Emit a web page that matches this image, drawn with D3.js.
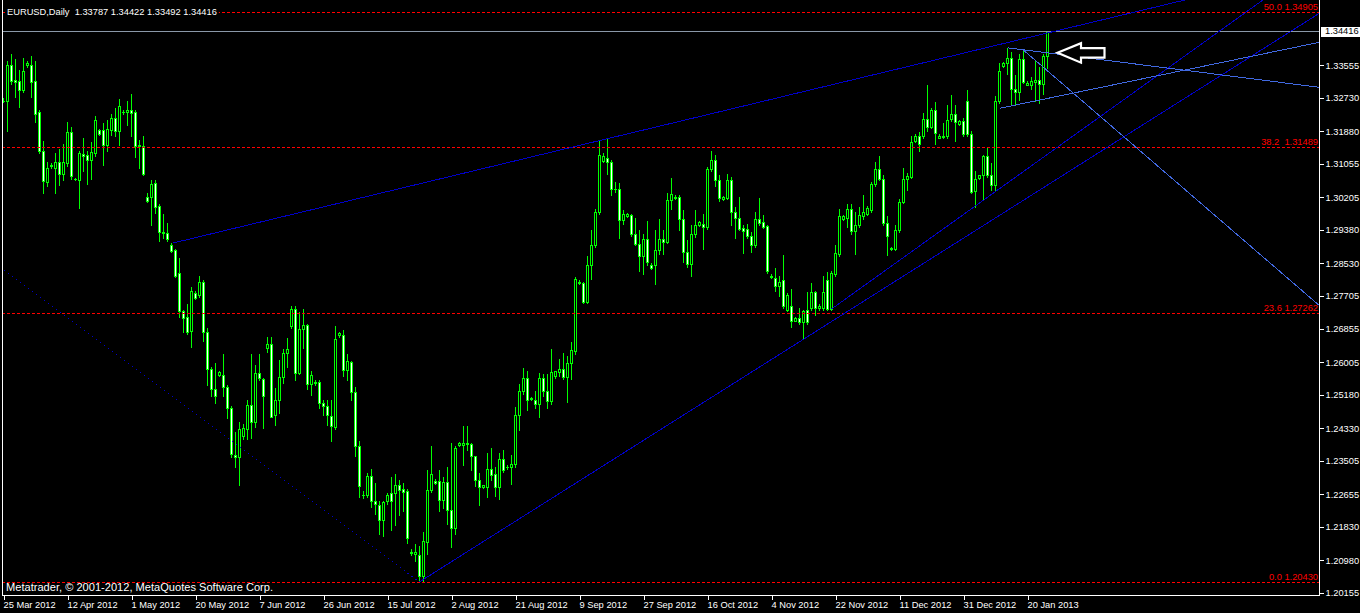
<!DOCTYPE html>
<html><head><meta charset="utf-8">
<script src="https://cdn.jsdelivr.net/npm/d3@7"></script>
<style>html,body{margin:0;padding:0;background:#000;overflow:hidden}svg{display:block}</style>
</head><body><svg id="c" width="1360" height="613"></svg>
<script>
// ---------------- DATA ----------------
const symbolTitle = "EURUSD,Daily";
const copyright = "Metatrader, \u00A9 2001-2012, MetaQuotes Software Corp.";
const openP = [
1.3266,1.3266,1.3355,1.3317,1.3315,1.3294,1.3355,1.3355,1.3315,1.3236,1.3137,1.3059,1.3099,1.3094,1.3109,1.3079,1.3107,1.3185,1.3067,1.3064,
1.3129,1.3127,1.3115,1.3132,1.3190,1.3190,1.3152,1.3190,1.3221,1.3188,1.3238,1.3238,1.3241,1.3236,1.3150,1.3150,1.3022,1.3021,1.3057,1.2999,
1.2933,1.2929,1.2900,1.2885,1.2827,1.2731,1.2715,1.2680,1.2776,1.2773,1.2806,1.2677,1.2585,1.2534,1.2569,1.2569,1.2538,1.2485,1.2366,1.2360,
1.2413,1.2432,1.2493,1.2449,1.2574,1.2559,1.2636,1.2648,1.2466,1.2504,1.2563,1.2625,1.2693,1.2737,1.2574,1.2686,1.2696,1.2546,1.2550,1.2552,
1.2498,1.2489,1.2464,1.2436,1.2669,1.2671,1.2582,1.2601,1.2525,1.2389,1.2264,1.2264,1.2313,1.2249,1.2239,1.2199,1.2248,1.2269,1.2269,1.2288,
1.2279,1.2275,1.2120,1.2114,1.2111,1.2059,1.2145,1.2277,1.2300,1.2300,1.2252,1.2298,1.2226,1.2179,1.2391,1.2392,1.2396,1.2394,1.2362,1.2302,
1.2283,1.2283,1.2330,1.2317,1.2283,1.2354,1.2336,1.2334,1.2343,1.2467,1.2529,1.2561,1.2509,1.2505,1.2495,1.2561,1.2527,1.2502,1.2565,1.2576,
1.2584,1.2563,1.2600,1.2629,1.2802,1.2803,1.2754,1.2849,1.2898,1.2982,1.3112,1.3121,1.3110,1.3042,1.3042,1.2963,1.2972,1.2976,1.2928,1.2902,
1.2872,1.2913,1.2847,1.2847,1.2885,1.2915,1.2906,1.3014,1.3018,1.3022,1.2966,1.2881,1.2851,1.2928,1.2949,1.2953,1.2944,1.3093,1.3114,1.3065,
1.3017,1.3018,1.3063,1.2982,1.2968,1.2942,1.2940,1.2921,1.2900,1.2964,1.2957,1.2946,1.2821,1.2816,1.2794,1.2809,1.2734,1.2743,1.2707,1.2714,
1.2703,1.2733,1.2738,1.2779,1.2738,1.2738,1.2809,1.2737,1.2826,1.2877,1.2966,1.2967,1.2991,1.2934,1.2949,1.2972,1.2978,1.2989,1.3055,1.3093,
1.3067,1.2956,1.2891,1.2889,1.2937,1.3008,1.3066,1.3071,1.3163,1.3177,1.3177,1.3220,1.3199,1.3243,1.3172,1.3177,1.3177,1.3218,1.3233,1.3207,
1.3214,1.3264,1.3182,1.3035,1.3068,1.3076,1.3124,1.3078,1.3052,1.3264,1.3354,1.3361,1.3375,1.3296,1.3288,1.3372,1.3306,1.3306,1.3313,1.3319,
1.3309,1.33787];
const highP = [
1.3272,1.3366,1.3383,1.3371,1.3343,1.3373,1.3366,1.3378,1.3366,1.3241,1.3162,1.3110,1.3106,1.3132,1.3142,1.3155,1.3211,1.3198,1.3070,1.3139,
1.3170,1.3139,1.3160,1.3226,1.3193,1.3208,1.3216,1.3233,1.3246,1.3269,1.3241,1.3264,1.3282,1.3243,1.3165,1.3175,1.3030,1.3063,1.3063,1.3004,
1.2977,1.2954,1.2903,1.2890,1.2867,1.2735,1.2750,1.2791,1.2781,1.2821,1.2809,1.2687,1.2590,1.2600,1.2578,1.2621,1.2544,1.2489,1.2425,1.2450,
1.2443,1.2505,1.2621,1.2595,1.2621,1.2560,1.2666,1.2666,1.2535,1.2607,1.2635,1.2662,1.2745,1.2745,1.2728,1.2737,1.2699,1.2580,1.2555,1.2555,
1.2506,1.2506,1.2506,1.2692,1.2679,1.2682,1.2622,1.2605,1.2538,1.2400,1.2275,1.2320,1.2330,1.2294,1.2248,1.2249,1.2270,1.2309,1.2317,1.2302,
1.2294,1.2279,1.2127,1.2139,1.2135,1.2169,1.2326,1.2387,1.2305,1.2326,1.2309,1.2336,1.2395,1.2387,1.2399,1.2440,1.2440,1.2396,1.2364,1.2319,
1.2290,1.2371,1.2383,1.2334,1.2371,1.2379,1.2341,1.2366,1.2488,1.2546,1.2587,1.2578,1.2512,1.2527,1.2574,1.2571,1.2570,1.2635,1.2580,1.2610,
1.2624,1.2618,1.2652,1.2817,1.2809,1.2805,1.2870,1.2938,1.2991,1.3163,1.3132,1.3167,1.3116,1.3059,1.3056,1.2989,1.2979,1.2978,1.2968,1.2936,
1.2928,1.2959,1.2852,1.2936,1.2966,1.2936,1.3031,1.3070,1.3025,1.3025,1.2987,1.2911,1.2950,1.2989,1.2961,1.2978,1.3097,1.3137,1.3127,1.3076,
1.3024,1.3080,1.3071,1.2995,1.3022,1.2949,1.2953,1.2933,1.2982,1.3019,1.2976,1.2950,1.2824,1.2840,1.2820,1.2874,1.2777,1.2788,1.2717,1.2738,
1.2734,1.2779,1.2802,1.2781,1.2749,1.2819,1.2830,1.2832,1.2898,1.2991,1.2974,1.3004,1.3004,1.2982,1.2995,1.3025,1.2997,1.3058,1.3110,1.3124,
1.3076,1.2972,1.2895,1.2949,1.3017,1.3095,1.3082,1.3175,1.3180,1.3186,1.3235,1.3306,1.3246,1.3262,1.3180,1.3209,1.3254,1.3281,1.3254,1.3217,
1.3221,1.3292,1.3188,1.3088,1.3078,1.3127,1.3148,1.3106,1.3277,1.3361,1.3364,1.3400,1.3389,1.3330,1.3385,1.3394,1.3315,1.3326,1.3368,1.3351,
1.3385,1.34422];
const lowP = [
1.3261,1.3188,1.3309,1.3275,1.3249,1.3287,1.3350,1.3275,1.3211,1.3132,1.3031,1.3049,1.3094,1.3031,1.3051,1.3063,1.3099,1.3066,1.3064,1.2993,
1.3087,1.3055,1.3066,1.3125,1.3179,1.3102,1.3139,1.3178,1.3175,1.3152,1.3233,1.3205,1.3177,1.3122,1.3094,1.3077,1.3007,1.2951,1.2981,1.2908,
1.2917,1.2908,1.2880,1.2817,1.2715,1.2677,1.2674,1.2639,1.2761,1.2768,1.2654,1.2544,1.2515,1.2497,1.2565,1.2516,1.2460,1.2361,1.2334,1.2288,
1.2407,1.2406,1.2409,1.2436,1.2555,1.2433,1.2626,1.2462,1.2442,1.2471,1.2548,1.2590,1.2689,1.2555,1.2570,1.2637,1.2533,1.2518,1.2544,1.2484,
1.2467,1.2442,1.2402,1.2432,1.2666,1.2567,1.2556,1.2505,1.2364,1.2258,1.2257,1.2258,1.2232,1.2216,1.2165,1.2159,1.2242,1.2175,1.2188,1.2213,
1.2224,1.2143,1.2112,1.2097,1.2043,1.2046,1.2114,1.2271,1.2291,1.2222,1.2230,1.2190,1.2131,1.2165,1.2389,1.2340,1.2377,1.2326,1.2286,1.2239,
1.2281,1.2258,1.2302,1.2260,1.2254,1.2321,1.2331,1.2292,1.2336,1.2430,1.2521,1.2480,1.2504,1.2484,1.2463,1.2516,1.2485,1.2495,1.2562,1.2565,
1.2559,1.2499,1.2559,1.2622,1.2799,1.2751,1.2751,1.2813,1.2893,1.2978,1.3111,1.3080,1.3025,1.3033,1.2916,1.2953,1.2970,1.2921,1.2898,1.2834,
1.2826,1.2847,1.2838,1.2800,1.2877,1.2875,1.2904,1.2991,1.3016,1.2936,1.2855,1.2844,1.2821,1.2919,1.2946,1.2888,1.2940,1.3088,1.3050,1.3010,
1.3013,1.3015,1.2949,1.2916,1.2936,1.2878,1.2916,1.2881,1.2895,1.2951,1.2941,1.2829,1.2815,1.2783,1.2769,1.2740,1.2730,1.2690,1.2705,1.2699,
1.2661,1.2699,1.2733,1.2720,1.2735,1.2735,1.2733,1.2735,1.2821,1.2872,1.2963,1.2944,1.2928,1.2876,1.2944,1.2966,1.2974,1.2984,1.3050,1.3063,
1.2951,1.2874,1.2886,1.2885,1.2933,1.3005,1.3039,1.3068,1.3160,1.3139,1.3172,1.3188,1.3195,1.3156,1.3170,1.3170,1.3172,1.3213,1.3162,1.3204,
1.3177,1.3177,1.3030,1.2995,1.3066,1.3012,1.3071,1.3038,1.3036,1.3259,1.3352,1.3334,1.3258,1.3254,1.3268,1.3310,1.3305,1.3296,1.3264,1.3260,
1.3282,1.33492];
const closeP = [
1.3265,1.3355,1.3316,1.3312,1.3294,1.3340,1.3361,1.3313,1.3233,1.3138,1.3061,1.3094,1.3101,1.3109,1.3079,1.3109,1.3185,1.3074,1.3066,1.3132,
1.3125,1.3116,1.3134,1.3216,1.3181,1.3152,1.3193,1.3221,1.3188,1.3251,1.3236,1.3241,1.3234,1.3150,1.3153,1.3079,1.3010,1.3055,1.2995,1.2932,
1.2929,1.2913,1.2883,1.2821,1.2731,1.2713,1.2677,1.2781,1.2763,1.2806,1.2677,1.2585,1.2534,1.2516,1.2575,1.2538,1.2485,1.2368,1.2360,1.2432,
1.2433,1.2493,1.2449,1.2574,1.2561,1.2516,1.2648,1.2463,1.2504,1.2563,1.2625,1.2635,1.2737,1.2574,1.2686,1.2696,1.2546,1.2569,1.2548,1.2498,
1.2489,1.2467,1.2440,1.2661,1.2675,1.2582,1.2604,1.2525,1.2389,1.2286,1.2263,1.2313,1.2249,1.2241,1.2199,1.2245,1.2264,1.2248,1.2288,1.2277,
1.2271,1.2155,1.2117,1.2120,1.2057,1.2148,1.2277,1.2317,1.2293,1.2252,1.2298,1.2226,1.2179,1.2383,1.2396,1.2396,1.2394,1.2362,1.2302,1.2283,
1.2288,1.2330,1.2315,1.2283,1.2354,1.2328,1.2335,1.2343,1.2467,1.2529,1.2561,1.2506,1.2508,1.2495,1.2561,1.2527,1.2502,1.2576,1.2578,1.2584,
1.2563,1.2600,1.2631,1.2813,1.2806,1.2754,1.2849,1.2898,1.2984,1.3127,1.3124,1.3110,1.3042,1.3040,1.2963,1.2977,1.2977,1.2928,1.2902,1.2872,
1.2913,1.2855,1.2841,1.2885,1.2915,1.2906,1.3014,1.3029,1.3022,1.2966,1.2881,1.2851,1.2928,1.2949,1.2957,1.2944,1.3093,1.3114,1.3065,1.3018,
1.3021,1.3063,1.2982,1.2967,1.2940,1.2934,1.2921,1.2900,1.2964,1.2956,1.2944,1.2832,1.2817,1.2794,1.2806,1.2745,1.2772,1.2707,1.2714,1.2703,
1.2731,1.2703,1.2779,1.2738,1.2745,1.2779,1.2737,1.2827,1.2878,1.2972,1.2972,1.2991,1.2934,1.2950,1.2976,1.2982,1.2993,1.3055,1.3093,1.3067,
1.2956,1.2921,1.2890,1.2938,1.3008,1.3067,1.3073,1.3160,1.3177,1.3155,1.3220,1.3199,1.3243,1.3184,1.3177,1.3173,1.3217,1.3233,1.3211,1.3214,
1.3182,1.3182,1.3033,1.3066,1.3076,1.3124,1.3076,1.3052,1.3264,1.3340,1.3362,1.3375,1.3296,1.3288,1.3372,1.3313,1.3311,1.3315,1.3319,1.3309,
1.3378,1.34416];

const dateLabels = ["25 Mar 2012","12 Apr 2012","1 May 2012","20 May 2012","7 Jun 2012","26 Jun 2012","15 Jul 2012","2 Aug 2012",
  "21 Aug 2012","9 Sep 2012","27 Sep 2012","16 Oct 2012","4 Nov 2012","22 Nov 2012","11 Dec 2012","31 Dec 2012","20 Jan 2013"];
const dateLabelBars = [0,16,32,48,64,80,96,112,128,144,160,176,192,208,224,240,256];
const priceTicks = [1.20155,1.20980,1.21830,1.22655,1.23505,1.24330,1.25180,1.26005,1.26855,1.27705,1.28530,1.29380,1.30205,1.31055,1.31880,1.32730,1.33555];
const lastPrice = 1.34416;
const fibPrices = [1.34905,1.31489,1.27262,1.20430];
const fibLabels = ["50.0 1.34905","38.2  1.31489","23.6 1.27262","0.0 1.20430"];
// trend lines: [bar, price] anchors
const trendFrom = [[0,1.2836],[42.4,1.2904],[207,1.27363],[104,1.2043],[249,1.32462],[251,1.3400],[255,1.3394]];
const trendTo   = [[104,1.2043],[264.1,1.34452],[313.7,1.35130],[328.95,1.34876],[328.95,1.34139],[328.95,1.32996],[328.8,1.27465]];
const trendRay  = [false,true,true,true,true,true,true];
const arrowTip = [263.5, 1.33875];

// ---------------- STYLE / LAYOUT ----------------
const W = 1360, H = 613;
const plot = {left: 2, right: 1319, top: 0, bottom: 596};
const FONT = "'Liberation Sans', Arial, sans-serif";
const trendColor = ["#0000c8","#0000c8","#0000c8","#0000c8","#4169e1","#4169e1","#4169e1"];
const trendDash  = ["2,3",null,null,null,null,null,null];

const svg = d3.select("#c");
svg.append("rect").attr("width", W).attr("height", H).attr("fill", "#000");

const x = d3.scaleLinear().domain([0, 256]).range([3.5, 1027.5]);
const y = d3.scaleLinear().domain([1.20155, 1.33555]).range([592.7, 65.3]);

svg.append("defs").append("clipPath").attr("id", "clip").append("rect")
  .attr("x", plot.left).attr("y", plot.top)
  .attr("width", plot.right - plot.left).attr("height", plot.bottom - plot.top);

const bars = openP.map((o, i) => ({i, o, h: highP[i], l: lowP[i], c: closeP[i]}));

// candles
const gC = svg.append("g").attr("clip-path", "url(#clip)").attr("shape-rendering", "crispEdges");
gC.selectAll("rect.wick").data(bars).join("rect").attr("class", "wick")
  .attr("x", d => x(d.i) - 0.5).attr("width", 1)
  .attr("y", d => Math.round(y(d.h)))
  .attr("height", d => Math.max(1, Math.round(y(d.l)) - Math.round(y(d.h)) + 1))
  .attr("fill", "#00ff00");
const bt = d => Math.round(y(Math.max(d.o, d.c)));
const bb = d => Math.round(y(Math.min(d.o, d.c)));
gC.selectAll("rect.body").data(bars).join("rect").attr("class", "body")
  .attr("x", d => x(d.i) - 1.5).attr("width", 3)
  .attr("y", bt).attr("height", d => bb(d) - bt(d) + 1)
  .attr("fill", "#00ff00");
gC.selectAll("rect.inner").data(bars.filter(d => bb(d) - bt(d) >= 2)).join("rect").attr("class", "inner")
  .attr("x", d => x(d.i) - 0.5).attr("width", 1)
  .attr("y", d => bt(d) + 1).attr("height", d => bb(d) - bt(d) - 1)
  .attr("fill", d => d.c >= d.o ? "#000000" : "#ffffff");

// objects layer
const gO = svg.append("g").attr("clip-path", "url(#clip)");

// fibo levels
gO.selectAll("line.fib").data(fibPrices).join("line")
  .attr("x1", plot.left).attr("x2", plot.right)
  .attr("y1", d => Math.round(y(d)) + 0.5).attr("y2", d => Math.round(y(d)) + 0.5)
  .attr("stroke", "#ff0000").attr("stroke-width", 1).attr("stroke-dasharray", "3,2")
  .attr("shape-rendering", "crispEdges");
gO.selectAll("text.fib").data(fibPrices).join("text")
  .attr("x", plot.right - 1).attr("y", d => Math.round(y(d)) - 2)
  .attr("text-anchor", "end").attr("fill", "#ff0000")
  .style("font-family", FONT).style("font-size", "9.3px").style("white-space", "pre")
  .text((d, i) => fibLabels[i]);

// bid line
gO.append("line").attr("x1", plot.left).attr("x2", plot.right)
  .attr("y1", Math.round(y(lastPrice)) + 0.5).attr("y2", Math.round(y(lastPrice)) + 0.5)
  .attr("stroke", "#8a98a8").attr("shape-rendering", "crispEdges");

// trend lines
trendFrom.forEach((a, k) => {
  const b = trendTo[k];
  let x1 = x(a[0]), y1 = y(a[1]), x2 = x(b[0]), y2 = y(b[1]);
  if (trendRay[k]) { const s = (y2 - y1) / (x2 - x1); const xe = 2000; y2 = y1 + s * (xe - x1); x2 = xe; }
  gO.append("line").attr("x1", x1).attr("y1", y1).attr("x2", x2).attr("y2", y2)
    .attr("stroke", trendColor[k]).attr("stroke-width", 1)
    .attr("stroke-dasharray", trendDash[k]).attr("shape-rendering", "crispEdges");
});

// arrow (pointing left)
const ax = x(arrowTip[0]), ay = y(arrowTip[1]);
const arrowPts = [[0,0],[23.5,-9.5],[23.5,-4.5],[47,-4.5],[47,5],[23.5,5],[23.5,10]];
gO.append("polygon").attr("points", arrowPts.map(p => [ax + p[0], ay + p[1]].join(",")).join(" "))
  .attr("fill", "#000").attr("stroke", "#fff").attr("stroke-width", 2.2).attr("stroke-linejoin", "miter");

// frame
const gF = svg.append("g").attr("shape-rendering", "crispEdges").attr("stroke", "#fff");
gF.append("line").attr("x1", plot.left + 0.5).attr("x2", plot.left + 0.5).attr("y1", 0).attr("y2", plot.bottom);
gF.append("line").attr("x1", plot.right + 0.5).attr("x2", plot.right + 0.5).attr("y1", 0).attr("y2", plot.bottom);
gF.append("line").attr("x1", plot.left).attr("x2", plot.right + 1).attr("y1", plot.bottom - 0.5).attr("y2", plot.bottom - 0.5);

// right price axis
const yAxis = d3.axisRight(y).tickValues(priceTicks).tickSize(4).tickPadding(2).tickFormat(d3.format(".5f"));
const gY = svg.append("g").attr("transform", `translate(${plot.right + 0.5},0)`).call(yAxis);
gY.select(".domain").remove();
gY.selectAll("line").attr("stroke", "#fff").attr("shape-rendering", "crispEdges");
gY.selectAll("text").attr("fill", "#fff").style("font-family", FONT).style("font-size", "9.3px");

// current price box
const ly = Math.round(y(lastPrice));
svg.append("rect").attr("x", plot.right + 2).attr("y", ly - 4.5).attr("width", W - plot.right - 2).attr("height", 10)
  .attr("fill", "#fff").attr("shape-rendering", "crispEdges");
svg.append("text").attr("x", plot.right + 6).attr("y", ly + 0.5).attr("dy", "0.32em").attr("fill", "#000")
  .style("font-family", FONT).style("font-size", "9.3px").text(d3.format(".5f")(lastPrice));

// bottom time axis
const xAxis = d3.axisBottom(x).tickValues(dateLabelBars).tickSize(4).tickFormat((d, i) => dateLabels[i]);
const gX = svg.append("g").attr("transform", `translate(0,${plot.bottom})`).call(xAxis);
gX.select(".domain").remove();
gX.selectAll("line").attr("stroke", "#fff").attr("shape-rendering", "crispEdges");
gX.selectAll("text").attr("fill", "#fff").attr("text-anchor", "start").attr("x", -0.5).attr("y", 12).attr("dy", 0)
  .style("font-family", FONT).style("font-size", "9.3px");

// header
const header = `${symbolTitle}  ${d3.format(".5f")(openP[openP.length-1])} ${d3.format(".5f")(highP[highP.length-1])} ${d3.format(".5f")(lowP[lowP.length-1])} ${d3.format(".5f")(closeP[closeP.length-1])}`;
const hb = svg.append("rect").attr("fill", "#000");
const ht = svg.append("text").attr("x", 7).attr("y", 14.5).attr("fill", "#fff")
  .style("font-family", FONT).style("font-size", "9.3px").style("white-space", "pre").text(header);
const hw = ht.node().getComputedTextLength();
hb.attr("x", 5).attr("y", 4).attr("width", hw + 4).attr("height", 13);

// copyright
svg.append("text").attr("x", 6).attr("y", 591).attr("fill", "#fff")
  .style("font-family", FONT).style("font-size", "10.5px")
  .attr("textLength", 267).attr("lengthAdjust", "spacingAndGlyphs").text(copyright);
</script>
</body></html>
